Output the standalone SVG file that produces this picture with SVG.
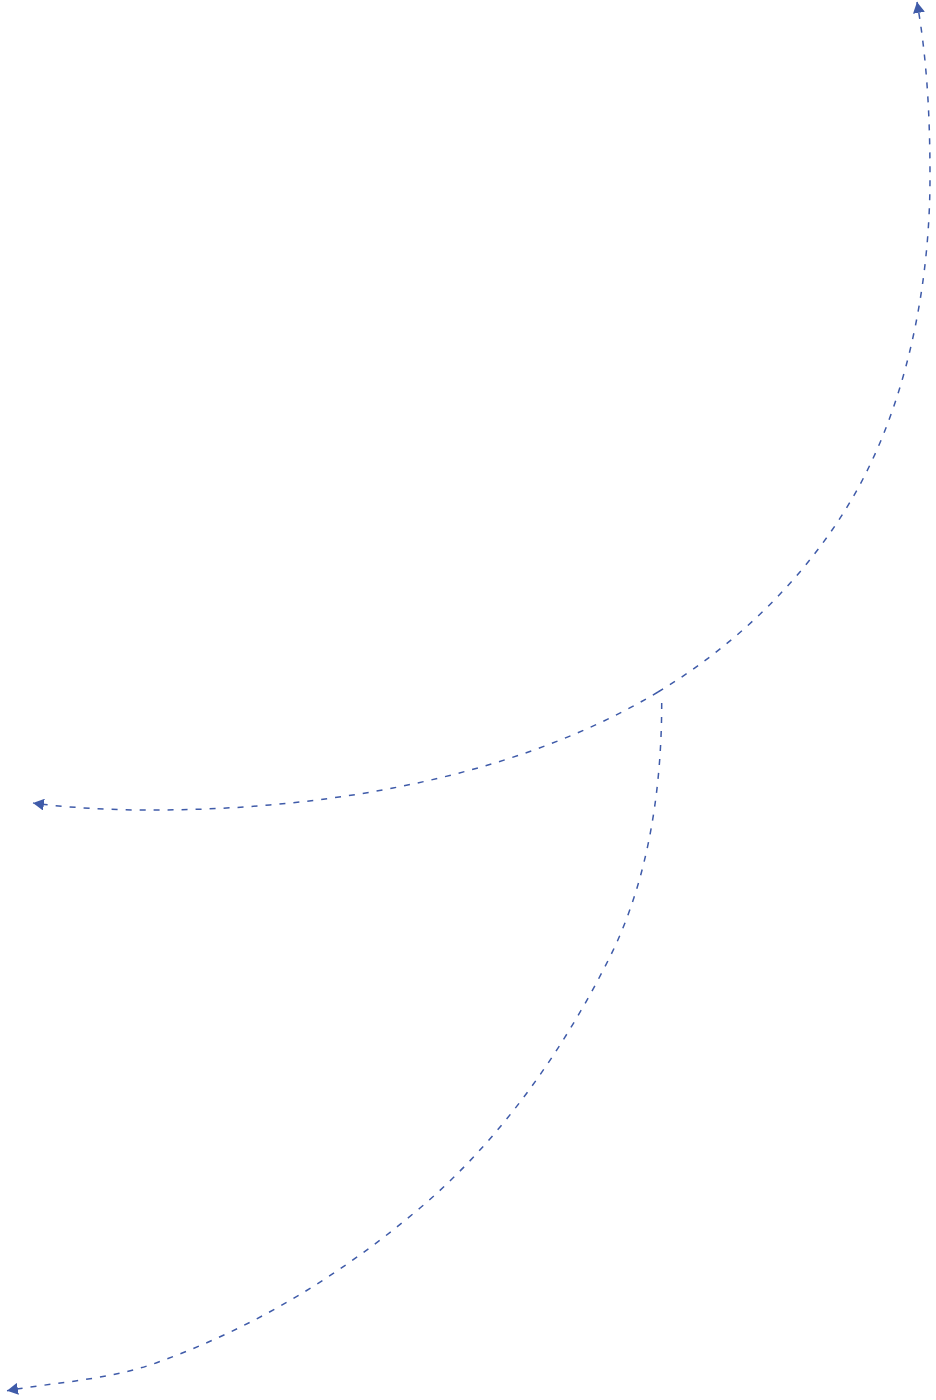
<svg xmlns="http://www.w3.org/2000/svg" width="936" height="1400" viewBox="0 0 936 1400">
  <style>
    .conn { fill: none; stroke: #3F5BA9; stroke-width: 1.5; stroke-dasharray: 6 8; }
  </style>
  <defs>
    <marker id="arrow" markerUnits="userSpaceOnUse" markerWidth="12" markerHeight="12" viewBox="0 0 12 12" refX="11" refY="6" orient="auto">
      <path d="M0,0 L11,6 L0,12 z" fill="#3F5BA9"/>
    </marker>
  </defs>
  <rect width="936" height="1400" fill="#ffffff"/>
  <g id="connectors">
    <path id="conn-up" class="conn" marker-end="url(#arrow)" d="M658,692 C743.7,640.6 819.6,564.1 865,475 C910.4,385.9 930,277 930,177 C930,119 927.3,60.4 917,2"/>
    <path id="conn-left" class="conn" marker-end="url(#arrow)" d="M658,692 C577.4,740.3 485.3,770.2 393,788 C314.4,803.1 233,810 153,810 C113,810.5 60,807 33,803"/>
    <path id="conn-down" class="conn" marker-end="url(#arrow)" d="M661.7,703 C661.7,789 648.4,879.8 610,956.7 C563.1,1050.6 500.2,1140.2 420,1208 C336,1279 250.7,1328.7 156.7,1362.7 C109.7,1379.7 56,1382.2 7,1390.7"/>
  </g>
</svg>
